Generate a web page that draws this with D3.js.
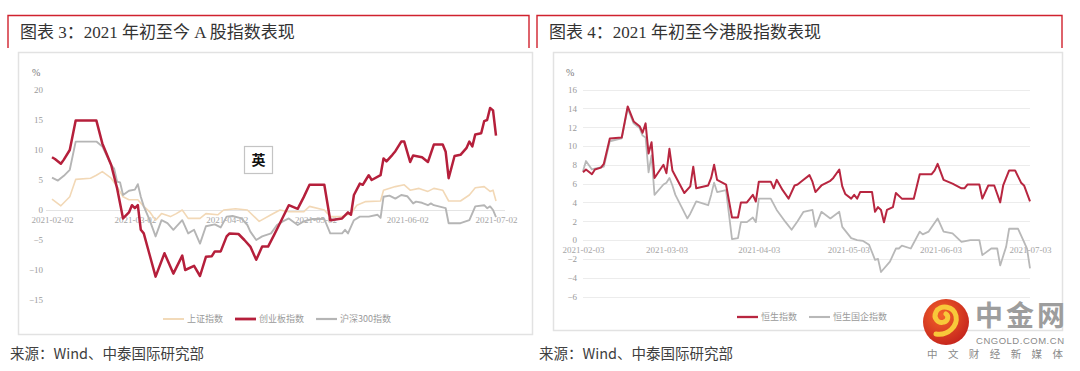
<!DOCTYPE html>
<html>
<head>
<meta charset="utf-8">
<script src="https://cdn.jsdelivr.net/npm/d3@7/dist/d3.min.js"></script>
<style>
  html, body { margin: 0; padding: 0; background: #fff; }
  svg { display: block; }
  text { font-family: "Liberation Serif", "Noto Sans CJK SC", serif; }
</style>
</head>
<body>
<svg id="svg" width="1080" height="371"></svg>
<script>
// ---- A-share panel (图表 3) ----
const shCompSeries = [
  ['2021-02-02', 1.8], ['2021-02-05', 0.7], ['2021-02-06', 1.2], ['2021-02-08', 2.2], ['2021-02-10', 5.1],
  ['2021-02-15', 5.3], ['2021-02-17', 5.8], ['2021-02-19', 6.4], ['2021-02-22', 5.3], ['2021-02-24', 3.9],
  ['2021-02-26', 2.2], ['2021-02-28', 1.7], ['2021-03-03', 1.7], ['2021-03-05', 0.6], ['2021-03-07', -0.3],
  ['2021-03-09', -1.7], ['2021-03-11', -0.6], ['2021-03-14', -1.1], ['2021-03-16', -0.6], ['2021-03-18', 0],
  ['2021-03-20', -1.4], ['2021-03-24', -1.4], ['2021-03-26', -0.6], ['2021-03-30', -0.8], ['2021-04-01', 0],
  ['2021-04-05', 0.2], ['2021-04-09', 0], ['2021-04-13', -1.9], ['2021-04-17', -0.8], ['2021-04-20', 0],
  ['2021-04-23', -0.3], ['2021-04-28', -0.3], ['2021-04-30', 0.6], ['2021-05-05', 0], ['2021-05-07', -1.1],
  ['2021-05-11', -1.1], ['2021-05-14', -0.6], ['2021-05-16', 0.8], ['2021-05-19', 1.4], ['2021-05-24', 1.5],
  ['2021-05-25', 3.3], ['2021-05-29', 3.9], ['2021-06-01', 4.2], ['2021-06-03', 3.3], ['2021-06-06', 3.6],
  ['2021-06-09', 3.1], ['2021-06-11', 3.6], ['2021-06-14', 3.3], ['2021-06-16', 1.5], ['2021-06-20', 1.5],
  ['2021-06-23', 2.5], ['2021-06-25', 3.7], ['2021-06-28', 3.9], ['2021-06-30', 3.1], ['2021-07-01', 3.3],
  ['2021-07-02', 1.5]
];

const chinextSeries = [
  ['2021-02-02', 8.8], ['2021-02-03', 8.5], ['2021-02-05', 7.7], ['2021-02-06', 8.4], ['2021-02-08', 10],
  ['2021-02-10', 14.9], ['2021-02-17', 14.9], ['2021-02-19', 11.1], ['2021-02-22', 7.5], ['2021-02-24', 3.6],
  ['2021-02-26', -1.4], ['2021-02-28', -0.4], ['2021-03-01', 0.8], ['2021-03-02', 0.3], ['2021-03-03', 0.8],
  ['2021-03-04', -3.3], ['2021-03-05', -3.9], ['2021-03-07', -7.5], ['2021-03-09', -11.1], ['2021-03-12', -7.2],
  ['2021-03-15', -10.6], ['2021-03-18', -7.6], ['2021-03-19', -10], ['2021-03-22', -9.3], ['2021-03-24', -11],
  ['2021-03-26', -7.8], ['2021-03-28', -7.7], ['2021-03-29', -6.9], ['2021-03-31', -6.9], ['2021-04-02', -4.4],
  ['2021-04-03', -3.9], ['2021-04-06', -4.0], ['2021-04-08', -5], ['2021-04-10', -6.1], ['2021-04-12', -8.3],
  ['2021-04-14', -6.1], ['2021-04-16', -6.1], ['2021-04-18', -4.2], ['2021-04-20', -2.2], ['2021-04-22', -0.2],
  ['2021-04-23', 0.8], ['2021-04-25', 0.4], ['2021-04-26', 0.2], ['2021-04-28', 2.1], ['2021-04-30', 4.2],
  ['2021-05-05', 4.2], ['2021-05-07', -1.7], ['2021-05-11', -1.4], ['2021-05-13', -0.4], ['2021-05-14', -0.8],
  ['2021-05-15', 2.5], ['2021-05-17', 4.4], ['2021-05-18', 4.2], ['2021-05-19', 5], ['2021-05-20', 5.8],
  ['2021-05-21', 5], ['2021-05-24', 5.8], ['2021-05-25', 8.6], ['2021-05-26', 8.1], ['2021-05-28', 9.2],
  ['2021-05-29', 9.8], ['2021-05-31', 11.4], ['2021-06-01', 11.4], ['2021-06-03', 8], ['2021-06-04', 9.1],
  ['2021-06-07', 8.8], ['2021-06-09', 8], ['2021-06-11', 10.9], ['2021-06-14', 10.9], ['2021-06-15', 9.7],
  ['2021-06-16', 5.3], ['2021-06-18', 9], ['2021-06-20', 9.2], ['2021-06-22', 10.3], ['2021-06-23', 11.4],
  ['2021-06-24', 10.6], ['2021-06-25', 12.6], ['2021-06-27', 12.8], ['2021-06-28', 14.8], ['2021-06-29', 15],
  ['2021-06-30', 17], ['2021-07-01', 16.6], ['2021-07-02', 12.4]
];

const hs300Series = [
  ['2021-02-02', 5.4], ['2021-02-04', 4.9], ['2021-02-06', 5.7], ['2021-02-08', 6.7], ['2021-02-10', 11.4],
  ['2021-02-17', 11.4], ['2021-02-19', 10.6], ['2021-02-22', 7.5], ['2021-02-23', 6.9], ['2021-02-24', 4.7],
  ['2021-02-25', 4.6], ['2021-02-26', 2.5], ['2021-02-28', 3.2], ['2021-03-02', 3.4], ['2021-03-03', 4.3],
  ['2021-03-04', 2.2], ['2021-03-05', 0.6], ['2021-03-07', -1.7], ['2021-03-09', -4.4], ['2021-03-11', -1.7],
  ['2021-03-13', -2.2], ['2021-03-15', -3.3], ['2021-03-18', -1.7], ['2021-03-20', -3.9], ['2021-03-22', -3.3],
  ['2021-03-24', -5.6], ['2021-03-26', -2.7], ['2021-03-29', -2.4], ['2021-03-31', -2.9], ['2021-04-02', -1.1],
  ['2021-04-04', -1], ['2021-04-07', -1.4], ['2021-04-09', -2.5], ['2021-04-10', -3.6], ['2021-04-12', -5],
  ['2021-04-14', -4.4], ['2021-04-17', -3.9], ['2021-04-19', -2.5], ['2021-04-21', -1.9], ['2021-04-23', -1.4],
  ['2021-04-26', -2.5], ['2021-04-28', -1.9], ['2021-05-01', -1.5], ['2021-05-05', -1.5], ['2021-05-07', -3.9],
  ['2021-05-11', -3.9], ['2021-05-12', -3.3], ['2021-05-13', -3.9], ['2021-05-15', -1.7], ['2021-05-17', -1.1],
  ['2021-05-20', -1.1], ['2021-05-23', -0.8], ['2021-05-24', -1.3], ['2021-05-25', 2.2], ['2021-05-27', 2.4],
  ['2021-05-29', 1.9], ['2021-05-31', 2.5], ['2021-06-02', 2.3], ['2021-06-04', 1.1], ['2021-06-05', 1.4],
  ['2021-06-07', 1.2], ['2021-06-09', 0.8], ['2021-06-10', 1.1], ['2021-06-11', 0.8], ['2021-06-15', 0.3],
  ['2021-06-16', -2.2], ['2021-06-20', -2.2], ['2021-06-23', -1.7], ['2021-06-25', 0.6], ['2021-06-28', 0.8],
  ['2021-06-29', 0.3], ['2021-06-30', 0.6], ['2021-07-01', 0], ['2021-07-02', -1.2]
];

const aShareNames = ['上证指数', '创业板指数', '沪深300指数'];
const aShareYTicks = [20, 15, 10, 5, 0, -5, -10, -15];
const aShareDateTicks = ['2021-02-02', '2021-03-02', '2021-04-02', '2021-05-02', '2021-06-02', '2021-07-02'];

// ---- HK panel (图表 4) ----
const hsiSeries = [
  ['2021-02-03', 7.2], ['2021-02-04', 7.5], ['2021-02-06', 7.0], ['2021-02-07', 7.5], ['2021-02-09', 7.7],
  ['2021-02-10', 8.1], ['2021-02-12', 10.8], ['2021-02-16', 10.9], ['2021-02-18', 14.2], ['2021-02-20', 12.6],
  ['2021-02-22', 12.1], ['2021-02-23', 11.4], ['2021-02-24', 12.4], ['2021-02-25', 9.2], ['2021-02-26', 10.4],
  ['2021-02-27', 6.6], ['2021-03-02', 8.0], ['2021-03-03', 7.1], ['2021-03-04', 9.7], ['2021-03-05', 7.4],
  ['2021-03-09', 5.0], ['2021-03-11', 5.7], ['2021-03-12', 7.8], ['2021-03-13', 5.5], ['2021-03-17', 5.8],
  ['2021-03-18', 6.6], ['2021-03-19', 8.0], ['2021-03-20', 6.4], ['2021-03-23', 5.9], ['2021-03-25', 2.4],
  ['2021-03-27', 2.4], ['2021-03-28', 4.0], ['2021-03-30', 4.0], ['2021-04-01', 4.8], ['2021-04-02', 4.1],
  ['2021-04-03', 6.2], ['2021-04-07', 6.2], ['2021-04-08', 5.5], ['2021-04-09', 6.4], ['2021-04-11', 5.3],
  ['2021-04-13', 4.4], ['2021-04-15', 5.8], ['2021-04-16', 5.9], ['2021-04-18', 6.4], ['2021-04-20', 6.9],
  ['2021-04-21', 6.2], ['2021-04-22', 5.1], ['2021-04-24', 5.8], ['2021-04-27', 6.3], ['2021-04-28', 6.6],
  ['2021-04-30', 7.5], ['2021-05-01', 5.7], ['2021-05-02', 4.9], ['2021-05-04', 4.4], ['2021-05-05', 4.8],
  ['2021-05-06', 4.4], ['2021-05-07', 5.1], ['2021-05-11', 5.1], ['2021-05-12', 3.0], ['2021-05-13', 3.5],
  ['2021-05-14', 3.2], ['2021-05-15', 1.9], ['2021-05-16', 3.2], ['2021-05-18', 3.5], ['2021-05-19', 5.0],
  ['2021-05-21', 4.4], ['2021-05-25', 4.4], ['2021-05-27', 7.0], ['2021-05-31', 7.0], ['2021-06-01', 7.4],
  ['2021-06-02', 8.1], ['2021-06-04', 6.4], ['2021-06-07', 6.0], ['2021-06-10', 5.5], ['2021-06-11', 5.5],
  ['2021-06-12', 5.9], ['2021-06-16', 5.9], ['2021-06-17', 4.4], ['2021-06-19', 5.8], ['2021-06-21', 5.8],
  ['2021-06-23', 4.0], ['2021-06-24', 5.8], ['2021-06-26', 7.4], ['2021-06-28', 7.4], ['2021-06-30', 6.1],
  ['2021-07-01', 5.8], ['2021-07-03', 4.1]
];

const hsceiSeries = [
  ['2021-02-03', 7.3], ['2021-02-04', 8.4], ['2021-02-06', 7.5], ['2021-02-07', 7.6], ['2021-02-10', 7.8],
  ['2021-02-12', 10.5], ['2021-02-16', 10.8], ['2021-02-18', 14.0], ['2021-02-20', 12.4], ['2021-02-22', 11.9],
  ['2021-02-23', 11.1], ['2021-02-24', 10.9], ['2021-02-25', 7.2], ['2021-02-26', 9.0], ['2021-02-27', 4.8],
  ['2021-03-02', 5.9], ['2021-03-03', 6.1], ['2021-03-04', 6.6], ['2021-03-05', 5.8], ['2021-03-06', 4.8],
  ['2021-03-10', 2.3], ['2021-03-11', 2.8], ['2021-03-13', 4.1], ['2021-03-17', 3.7], ['2021-03-18', 4.8],
  ['2021-03-19', 6.1], ['2021-03-20', 5.1], ['2021-03-23', 5.3], ['2021-03-25', 0.1], ['2021-03-27', 0.2],
  ['2021-03-28', 1.9], ['2021-03-30', 1.9], ['2021-04-01', 2.4], ['2021-04-02', 1.9], ['2021-04-03', 4.4],
  ['2021-04-07', 4.4], ['2021-04-09', 3.2], ['2021-04-12', 1.9], ['2021-04-14', 1.1], ['2021-04-16', 2.0],
  ['2021-04-18', 3.0], ['2021-04-21', 3.2], ['2021-04-22', 1.4], ['2021-04-24', 3.0], ['2021-04-27', 2.3],
  ['2021-04-30', 3.0], ['2021-05-01', 1.4], ['2021-05-04', 0.2], ['2021-05-06', 0], ['2021-05-08', -0.1],
  ['2021-05-10', -0.5], ['2021-05-12', -2.1], ['2021-05-13', -2.0], ['2021-05-14', -3.4], ['2021-05-17', -2.3],
  ['2021-05-19', -0.9], ['2021-05-20', -0.9], ['2021-05-21', -0.6], ['2021-05-24', -0.9], ['2021-05-27', 0.9],
  ['2021-05-28', 0.6], ['2021-05-30', 0.9], ['2021-06-02', 2.3], ['2021-06-04', 0.9], ['2021-06-07', 0.7],
  ['2021-06-10', -0.2], ['2021-06-13', 0], ['2021-06-16', 0], ['2021-06-17', -1.6], ['2021-06-20', -0.9],
  ['2021-06-22', -0.9], ['2021-06-23', -2.7], ['2021-06-25', -0.7], ['2021-06-26', 1.2], ['2021-06-29', 1.2],
  ['2021-06-30', 0.5], ['2021-07-02', -0.9], ['2021-07-03', -3.0]
];

const hkNames = ['恒生指数', '恒生国企指数'];
const hkYTicks = [16, 14, 12, 10, 8, 6, 4, 2, 0, -2, -4, -6];
const hkDateTicks = ['2021-02-03', '2021-03-03', '2021-04-03', '2021-05-03', '2021-06-03', '2021-07-03'];

const sourceText = '来源：Wind、中泰国际研究部';

const parseDate = d3.timeParse('%Y-%m-%d');
const fmtDate = d3.timeFormat('%Y-%m-%d');
const svg = d3.select('#svg');

const panels = [
  {
    left: 8, right: 529, boxL: 18, boxR: 532, boxT: 52, boxB: 334,
    title: '图表 3：2021 年初至今 A 股指数表现',
    xDomain: ['2021-02-02', '2021-07-02'], xRange: [52, 496],
    yDomain: [-15, 20], yRange: [300, 90], axisX: 46, gridR: 505,
    yTicks: aShareYTicks, dateTicks: aShareDateTicks, grid: false,
    series: [
      { data: shCompSeries, name: aShareNames[0], color: '#f2d8b6', width: 1.6 },
      { data: hs300Series, name: aShareNames[2], color: '#b5b5b5', width: 1.9 },
      { data: chinextSeries, name: aShareNames[1], color: '#b51f3b', width: 2.5 }
    ],
    legend: [0, 2, 1], legendX: 163, legendY: 319
  },
  {
    left: 537, right: 1062, boxL: 553, boxR: 1062, boxT: 52, boxB: 330,
    title: '图表 4：2021 年初至今港股指数表现',
    xDomain: ['2021-02-03', '2021-07-03'], xRange: [583, 1030],
    yDomain: [-6, 16], yRange: [296.5, 89.5], axisX: 580, gridR: 1030,
    yTicks: hkYTicks, dateTicks: hkDateTicks, grid: true,
    series: [
      { data: hsceiSeries, name: hkNames[1], color: '#b8b8b8', width: 1.8 },
      { data: hsiSeries, name: hkNames[0], color: '#b82640', width: 2.0 }
    ],
    legend: [1, 0], legendX: 737, legendY: 317
  }
];

const drawHeader = function(p) {
  const g = svg.append('g').classed('header', true);
  g.append('path')
    .attr('d', `M${p.left},48V15.5H${p.right}V48`)
    .attr('fill', 'none')
    .attr('stroke', '#d0222e')
    .attr('stroke-width', 1.4);
  g.append('text')
    .attr('x', p.left + 12)
    .attr('y', 38)
    .attr('font-size', 17)
    .attr('fill', '#333')
    .text(p.title);
  svg.append('rect')
    .attr('x', p.boxL + 0.5)
    .attr('y', p.boxT + 0.5)
    .attr('width', p.boxR - p.boxL)
    .attr('height', p.boxB - p.boxT)
    .attr('fill', '#fff')
    .attr('stroke', '#e2e2e2')
    .attr('stroke-width', 1.5);
  svg.append('text')
    .attr('x', p.left + 2)
    .attr('y', 359)
    .attr('font-size', 14.5)
    .attr('fill', '#404040')
    .style('font-family', '"Noto Sans CJK SC", sans-serif')
    .text(sourceText);
};

const drawPanel = function(p) {
  const xScale = d3.scaleTime().domain(p.xDomain.map(parseDate)).range(p.xRange);
  const yScale = d3.scaleLinear().domain(p.yDomain).range(p.yRange);
  const g = svg.append('g').classed('plot', true);

  // grid / zero line
  const gridVals = p.grid ? p.yTicks : [0];
  g.append('g').selectAll('line').data(gridVals).enter().append('line')
    .attr('x1', p.grid ? p.xRange[0] : p.axisX)
    .attr('x2', p.gridR)
    .attr('y1', d => Math.round(yScale(d)) + 0.5)
    .attr('y2', d => Math.round(yScale(d)) + 0.5)
    .attr('stroke', d => (d === 0 && !p.grid ? '#e4e4e4' : '#ececec'))
    .attr('stroke-width', 1);

  // y axis
  const yAxis = d3.axisLeft(yScale).tickValues(p.yTicks).tickSize(0).tickPadding(3);
  const ya = g.append('g').attr('transform', `translate(${p.axisX},0)`).call(yAxis);
  ya.select('.domain').remove();
  ya.selectAll('text').attr('fill', '#9a9a9a').attr('font-size', 9)
    .style('font-family', '"Liberation Serif", serif');

  g.append('text')
    .attr('x', p.axisX - 14)
    .attr('y', yScale(p.yDomain[1]) - 14)
    .attr('font-size', 10)
    .attr('fill', '#777')
    .text('%');

  // date axis on zero line
  const xAxis = d3.axisBottom(xScale)
    .tickValues(p.dateTicks.map(parseDate))
    .tickFormat(fmtDate)
    .tickSize(0)
    .tickPadding(7);
  const xa = g.append('g').attr('transform', `translate(0,${yScale(0)})`).call(xAxis);
  xa.select('.domain').remove();
  xa.selectAll('text').attr('fill', '#a5a5a5').attr('font-size', 9)
    .style('font-family', '"Liberation Serif", serif');

  // lines
  const line = d3.line()
    .x(d => xScale(parseDate(d[0])))
    .y(d => yScale(d[1]));
  p.series.forEach(s => {
    g.append('path')
      .datum(s.data)
      .attr('d', line)
      .attr('fill', 'none')
      .attr('stroke', s.color)
      .attr('stroke-width', s.width)
      .attr('stroke-linejoin', 'round');
  });

  // legend
  const lg = g.append('g').classed('legend', true);
  let lx = p.legendX;
  p.legend.forEach(i => {
    const s = p.series[i];
    lg.append('line')
      .attr('x1', lx).attr('x2', lx + 21)
      .attr('y1', p.legendY).attr('y2', p.legendY)
      .attr('stroke', s.color)
      .attr('stroke-width', s.width + 0.3);
    const t = lg.append('text')
      .attr('x', lx + 24)
      .attr('y', p.legendY + 3.2)
      .attr('font-size', 9)
      .attr('fill', '#9a9a9a')
      .style('font-family', '"Noto Sans CJK SC", sans-serif')
      .text(s.name);
    lx += 24 + t.node().getComputedTextLength() + 12;
  });
};

const drawImeBox = function() {
  const g = svg.append('g');
  g.append('rect')
    .attr('x', 244.5).attr('y', 146.5)
    .attr('width', 28).attr('height', 27)
    .attr('fill', '#fff')
    .attr('stroke', '#c4c4c4')
    .attr('stroke-width', 1.2);
  g.append('text')
    .attr('x', 258.5).attr('y', 165)
    .attr('text-anchor', 'middle')
    .attr('font-size', 14)
    .attr('font-weight', 'bold')
    .attr('fill', '#111')
    .style('font-family', '"Noto Sans CJK SC", sans-serif')
    .text('英');
};

const drawLogo = function() {
  const g = svg.append('g').classed('logo', true);
  const defs = svg.append('defs');
  const grad = defs.append('radialGradient').attr('id', 'logoGrad')
    .attr('cx', '40%').attr('cy', '35%').attr('r', '70%');
  grad.append('stop').attr('offset', '0%').attr('stop-color', '#f4632a');
  grad.append('stop').attr('offset', '100%').attr('stop-color', '#c4231c');
  g.append('circle').attr('cx', 946).attr('cy', 322).attr('r', 23).attr('fill', 'url(#logoGrad)');
  g.append('path')
    .attr('d', 'M936,334 C948,336 958,326 956,316 C954,306 940,304 936,312 C933,318 938,324 944,322 C948,321 949,316 946,314')
    .attr('fill', 'none')
    .attr('stroke', '#f8c83a')
    .attr('stroke-width', 5)
    .attr('stroke-linecap', 'round');
  g.append('text')
    .attr('x', 975).attr('y', 326)
    .attr('font-size', 28)
    .attr('font-weight', 'bold')
    .attr('fill', '#9d9d9d')
    .attr('textLength', 90)
    .style('font-family', '"Noto Sans CJK SC", sans-serif')
    .text('中金网');
  g.append('text')
    .attr('x', 976).attr('y', 344)
    .attr('font-size', 9.5)
    .attr('fill', '#8a8a8a')
    .style('font-family', '"Liberation Sans", sans-serif')
    .attr('textLength', 88)
    .text('CNGOLD.COM.CN');
  g.append('text')
    .attr('x', 927).attr('y', 358)
    .attr('font-size', 10.5)
    .attr('fill', '#8a8a8a')
    .attr('textLength', 136)
    .style('font-family', '"Noto Sans CJK SC", sans-serif')
    .text('中文财经新媒体');
};

panels.forEach(p => drawHeader(p));
panels.forEach(p => drawPanel(p));
drawImeBox();
drawLogo();
</script>
</body>
</html>
